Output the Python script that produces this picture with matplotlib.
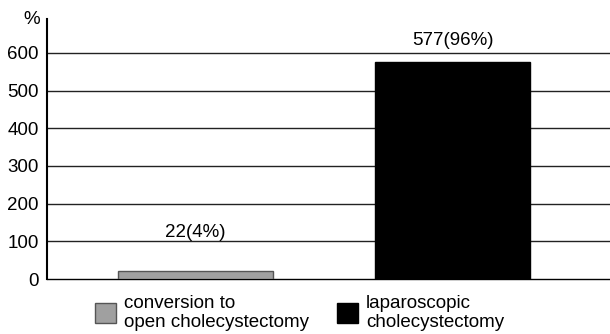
import matplotlib
matplotlib.use('Agg')
import matplotlib.pyplot as plt
from matplotlib.patches import Rectangle

# datos
categorias = ["conversion to\nopen cholecystectomy", "laparoscopic\ncholecystectomy"]
valores = [22, 577]
etiquetas = ["22(4%)", "577(96%)"]
pos_etiqueta = [123, 634]
colores = ["#a0a0a0", "#000000"]
bordes = ["#555555", "#000000"]
yticks = [0, 100, 200, 300, 400, 500, 600]

plt.rcParams['font.family'] = ['Liberation Sans', 'DejaVu Sans']
FS = 13.5

fig = plt.figure(figsize=(6.1, 3.34), dpi=100)
ax = fig.add_axes([47/610, 1 - 279/334, 563/610, 260/334])

x = list(range(len(valores)))
ax.bar(x, valores, width=0.6, color=colores, edgecolor=bordes, linewidth=1, zorder=3)
for xi, txt, yp in zip(x, etiquetas, pos_etiqueta):
    ax.text(xi, yp, txt, ha='center', va='center', fontsize=FS)

for t in yticks[1:]:
    ax.axhline(t, color='#222222', lw=1, zorder=1)

ax.set_xlim(-0.578, 1.613)
ax.set_ylim(0, 690)
ax.set_yticks(yticks)
ax.set_xticks([])
ax.tick_params(axis='y', length=0, labelsize=FS, pad=6)
for s in ['top', 'right']:
    ax.spines[s].set_visible(False)
ax.spines['left'].set_linewidth(1.5)
ax.spines['bottom'].set_linewidth(1)
ax.text(-0.027, 1.0, "%", transform=ax.transAxes, ha='center', va='center', fontsize=FS)

# leyenda manual debajo del eje
leg_x = [95, 337]
for lx, cat, c, b in zip(leg_x, categorias, colores, bordes):
    fig.patches.append(Rectangle((lx/610, 1 - 323/334), 21/610, 20/334,
                                 transform=fig.transFigure, facecolor=c, edgecolor=b, lw=1))
    fig.text((lx + 29)/610, 1 - 313/334, cat, ha='left', va='center', fontsize=FS, linespacing=1.1)

fig.savefig("out.png", dpi=100)
